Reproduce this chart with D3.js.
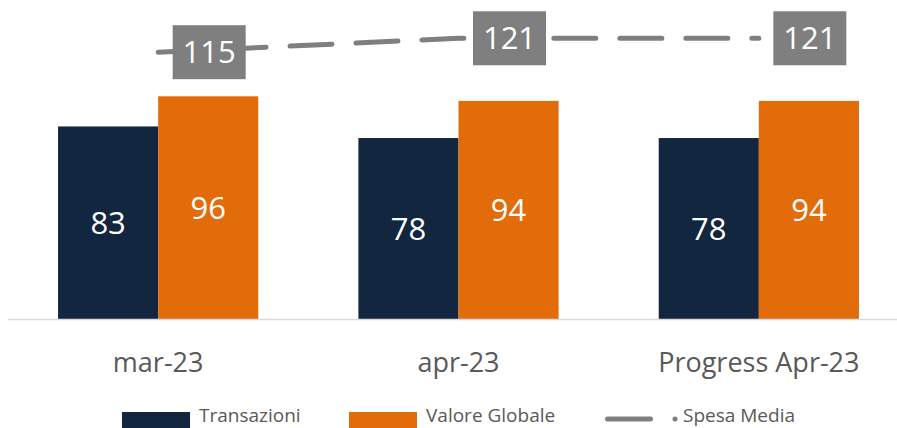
<!DOCTYPE html>
<html>
<head>
<meta charset="utf-8">
<script src="https://cdn.jsdelivr.net/npm/d3@7"></script>
<style>
  body { margin: 0; background: #fff; }
  svg { display: block; font-family: "Open Sans", sans-serif; }
</style>
</head>
<body>
<div class="canvas"></div>
<script>
const categories = ["mar-23", "apr-23", "Progress Apr-23"];
const transazioni = [83, 78, 78];
const valoreGlobale = [96, 94, 94];
const spesaMedia = [115, 121, 121];
const seriesNames = ["Transazioni", "Valore Globale", "Spesa Media"];

const width = 897;
const height = 428;
const baseline = 319;

const colors = { Transazioni: "#12263f", "Valore Globale": "#e36c0a", line: "#7f7f7f" };

const svg = d3
  .select(".canvas")
  .append("svg")
  .attr("width", width)
  .attr("height", height);

// scales
const x0 = d3
  .scaleBand()
  .domain(categories)
  .range([8, 909])
  .paddingInner(1 / 3)
  .paddingOuter(1 / 6);

const x1 = d3
  .scaleBand()
  .domain(seriesNames.slice(0, 2))
  .range([0, x0.bandwidth()]);

const y = d3.scaleLinear().domain([0, 137.5]).range([baseline, 0]);

// bars
const barData = categories.map((c, i) => ({
  cat: c,
  values: [
    { key: "Transazioni", value: transazioni[i] },
    { key: "Valore Globale", value: valoreGlobale[i] },
  ],
}));

const groups = svg
  .selectAll(".group")
  .data(barData)
  .enter()
  .append("g")
  .attr("class", "group")
  .attr("transform", (d) => `translate(${x0(d.cat)}, 0)`);

groups
  .selectAll("rect")
  .data((d) => d.values)
  .enter()
  .append("rect")
  .attr("x", (d) => x1(d.key))
  .attr("y", (d) => y(d.value))
  .attr("width", x1.bandwidth())
  .attr("height", (d) => baseline - y(d.value))
  .attr("fill", (d) => colors[d.key]);

groups
  .selectAll("text")
  .data((d) => d.values)
  .enter()
  .append("text")
  .attr("x", (d) => x1(d.key) + x1.bandwidth() / 2)
  .attr("y", (d) => (y(d.value) + baseline) / 2)
  .attr("dy", "0.36em")
  .attr("text-anchor", "middle")
  .attr("fill", "#fff")
  .style("font-size", "31px")
  .text((d) => d.value);

// x axis
const xAxis = d3.axisBottom(x0).tickSize(0).tickPadding(34);
const xAxisGroup = svg
  .append("g")
  .attr("transform", `translate(0, ${baseline})`)
  .call(xAxis);
xAxisGroup.select(".domain").remove();
xAxisGroup
  .selectAll("text")
  .attr("fill", "#595959")
  .style("font-family", "Open Sans, sans-serif")
  .style("font-size", "27px");

svg
  .append("line")
  .attr("x1", 8)
  .attr("x2", width)
  .attr("y1", baseline + 0.5)
  .attr("y2", baseline + 0.5)
  .attr("stroke", "#d9d9d9")
  .attr("stroke-width", 1.5);

// spesa media line
const lineData = categories.map((c, i) => ({ cat: c, value: spesaMedia[i] }));
const cx = (d) => x0(d.cat) + x0.bandwidth() / 2;

const line = d3
  .line()
  .x(cx)
  .y((d) => y(d.value));

svg
  .append("path")
  .datum(lineData)
  .attr("fill", "none")
  .attr("stroke", colors.line)
  .attr("stroke-width", 5)
  .attr("stroke-linecap", "round")
  .attr("stroke-dasharray", "42,24")
  .attr("d", line);

const labels = svg
  .selectAll(".line-label")
  .data(lineData)
  .enter()
  .append("g")
  .attr("class", "line-label")
  .attr("transform", (d) => `translate(${cx(d) + 51}, ${y(d.value)})`);

labels
  .append("rect")
  .attr("x", -36.5)
  .attr("y", -27)
  .attr("width", 73)
  .attr("height", 54)
  .attr("fill", colors.line);

labels
  .append("text")
  .attr("text-anchor", "middle")
  .attr("dy", "0.36em")
  .attr("fill", "#fff")
  .style("font-size", "31px")
  .text((d) => d.value);

// legend
const legend = svg.append("g").attr("transform", "translate(0, 411)");

const legendItems = [
  { name: seriesNames[0], x: 122, type: "rect" },
  { name: seriesNames[1], x: 349, type: "rect" },
  { name: seriesNames[2], x: 605, type: "line" },
];

legendItems.forEach((item) => {
  if (item.type === "rect") {
    legend
      .append("rect")
      .attr("x", item.x)
      .attr("y", 1)
      .attr("width", 68)
      .attr("height", 16)
      .attr("fill", colors[item.name]);
    legend
      .append("text")
      .attr("x", item.x + 77)
      .attr("y", 11)
      .attr("fill", "#595959")
      .style("font-size", "19px")
      .text(item.name);
  } else {
    legend
      .append("line")
      .attr("x1", item.x + 2.5)
      .attr("x2", item.x + 45.5)
      .attr("y1", 8)
      .attr("y2", 8)
      .attr("stroke", colors.line)
      .attr("stroke-width", 5)
      .attr("stroke-linecap", "round");
    legend
      .append("circle")
      .attr("cx", item.x + 70)
      .attr("cy", 8)
      .attr("r", 2.5)
      .attr("fill", colors.line);
    legend
      .append("text")
      .attr("x", item.x + 78)
      .attr("y", 11)
      .attr("fill", "#595959")
      .style("font-size", "19px")
      .text(item.name);
  }
});
</script>
</body>
</html>
